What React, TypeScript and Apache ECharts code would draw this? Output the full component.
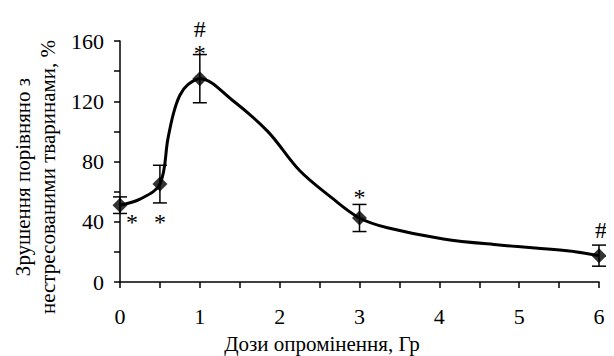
import React, { useEffect, useRef } from "react";
import * as echarts from "echarts";

// Marker data (dose, Gy -> change vs. unstressed animals, %)
const doses = [0, 0.5, 1, 3, 6];
const means = [51, 65, 135, 42.5, 17.5];
const errors = [5.5, 12.5, 16, 9, 7];

// Significance marks (one per symbol, attached to a dose point)
const markDose = [0, 0.5, 1, 1, 3, 6];
const markMean = [51, 65, 135, 135, 42.5, 17.5];
const markText = ["*", "*", "*", "#", "*", "#"];

// Points
const curveX = [0, 0.25, 0.5, 0.6, 0.67, 0.75, 0.85, 1, 1.4, 1.85, 2.25, 2.65, 3, 3.35, 4.05, 4.75, 5.6, 6];
const curveY = [51, 55, 65, 95, 112, 124, 131, 135, 121, 100, 74, 56, 42.5, 36, 28.6, 24.6, 20.8, 17.5];

const xTicks = [0, 1, 2, 3, 4, 5, 6];
const yTicks = [0, 40, 80, 120, 160];

const xTitle = "Дози опромінення, Гр";
const yTitle1 = "Зрушення порівняно з";
const yTitle2 = "нестресованими тваринами, %";

const FONT = "Liberation Serif";

export default function App() {
  const ref = useRef<HTMLDivElement>(null);
  useEffect(() => {
    if (!ref.current) return;
    const chart = echarts.init(ref.current, undefined, { renderer: "svg" });
    // pixel offsets of each mark from its data point
    const markOffsets: number[][] = [
      [12, 17],
      [0, 38],
      [0, -26],
      [0, -50],
      [0, -21],
      [2, -26],
    ];
    const titleStyle = {
      fontFamily: FONT,
      fontSize: 21,
      fill: "#000",
      align: "center",
      verticalAlign: "middle",
    };
    chart.setOption({
      animation: false,
      grid: { left: 120, right: 15, top: 41, bottom: 74 },
      xAxis: {
        type: "value",
        min: xTicks[0],
        max: xTicks[xTicks.length - 1],
        interval: 1,
        axisLine: { show: true, onZero: false, lineStyle: { color: "#000", width: 1.5 } },
        axisTick: { show: true, inside: false, length: 6, lineStyle: { color: "#000", width: 1.5 } },
        minorTick: { show: true, splitNumber: 2, length: 6, lineStyle: { color: "#000", width: 1.5 } },
        splitLine: { show: false },
        axisLabel: { color: "#000", fontFamily: FONT, fontSize: 22, margin: 23 },
      },
      yAxis: {
        type: "value",
        min: yTicks[0],
        max: yTicks[yTicks.length - 1],
        interval: 40,
        axisLine: { show: true, lineStyle: { color: "#000", width: 1.5 } },
        axisTick: { show: true, inside: false, length: 6, lineStyle: { color: "#000", width: 1.5 } },
        minorTick: { show: true, splitNumber: 2, length: 6, lineStyle: { color: "#000", width: 1.5 } },
        splitLine: { show: false },
        axisLabel: { color: "#000", fontFamily: FONT, fontSize: 22, margin: 16 },
      },
      graphic: [
        { type: "text", x: 322, y: 344, style: { ...titleStyle, text: xTitle } },
        { type: "text", x: 23, y: 177, rotation: Math.PI / 2, style: { ...titleStyle, text: yTitle1 } },
        { type: "text", x: 48, y: 177, rotation: Math.PI / 2, style: { ...titleStyle, text: yTitle2 } },
      ],
      series: [
        {
          type: "line",
          data: curveX.map((x, i) => [x, curveY[i]]),
          smooth: 0.35,
          showSymbol: false,
          symbol: "none",
          lineStyle: { color: "#000", width: 3 },
          z: 2,
        },
        {
          type: "custom",
          data: doses.map((d, i) => [d, means[i] - errors[i], means[i] + errors[i]]),
          renderItem: (params: any, api: any) => {
            const lo = api.coord([api.value(0), api.value(1)]);
            const hi = api.coord([api.value(0), api.value(2)]);
            const hw = 7;
            const style = { stroke: "#000", lineWidth: 1.5, fill: "none" };
            return {
              type: "group",
              children: [
                { type: "line", shape: { x1: lo[0], y1: lo[1], x2: hi[0], y2: hi[1] }, style },
                { type: "line", shape: { x1: lo[0] - hw, y1: lo[1], x2: lo[0] + hw, y2: lo[1] }, style },
                { type: "line", shape: { x1: hi[0] - hw, y1: hi[1], x2: hi[0] + hw, y2: hi[1] }, style },
              ],
            };
          },
          z: 3,
        },
        {
          type: "scatter",
          data: doses.map((d, i) => [d, means[i]]),
          symbol: "diamond",
          symbolSize: 15,
          itemStyle: { color: "#000" },
          z: 4,
        },
        {
          type: "custom",
          data: markDose.map((d, i) => [d, markMean[i], i]),
          renderItem: (params: any, api: any) => {
            const idx = api.value(2);
            const p = api.coord([api.value(0), api.value(1)]);
            const off = markOffsets[idx];
            return {
              type: "text",
              x: p[0] + off[0],
              y: p[1] + off[1],
              style: {
                text: markText[idx],
                fontFamily: FONT,
                fontSize: 24,
                fill: "#000",
                align: "center",
                verticalAlign: "middle",
              },
            };
          },
          z: 5,
        },
      ],
    });
    return () => chart.dispose();
  }, []);
  return <div ref={ref} style={{ width: 614, height: 356, marginLeft: -8, marginTop: -8 }} />;
}
